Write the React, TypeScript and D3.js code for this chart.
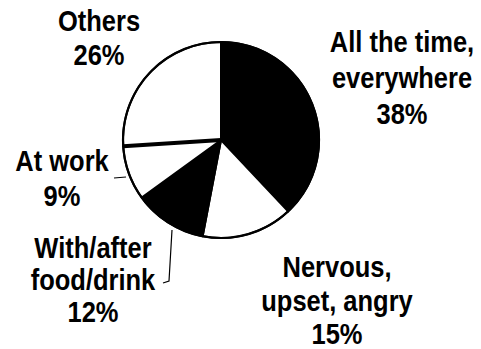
import React from "react";
import * as d3 from "d3";

const categories = ["All the time, everywhere", "Nervous, upset, angry", "With/after food/drink", "At work", "Others"];
const values = [38, 15, 12, 9, 26];
const labelLines = [
  ["All the time,", "everywhere", "38%"],
  ["Nervous,", "upset, angry", "15%"],
  ["With/after", "food/drink", "12%"],
  ["At work", "9%"],
  ["Others", "26%"],
];

const W = 481;
const H = 349;
const cx = 221;
const cy = 140;
const R = 98;
const fills = ["#000", "#fff", "#000", "#fff", "#fff"];
const SY = 1.13;
// label anchor (x center, first baseline) and line step
const labelPos: [number, number, number][] = [
  [402, 52, 36],
  [337, 277, 33.5],
  [93, 258, 32],
  [62, 171, 35],
  [99, 31, 34],
];

export default function App() {
  const pie = d3.pie<number>().sort(null).startAngle(0).endAngle(2 * Math.PI);
  const arcs = pie(values);
  const arc = d3.arc<d3.PieArcDatum<number>>().innerRadius(0).outerRadius(R);
  const sepAngle = arcs[3].endAngle;
  const sx = Math.sin(sepAngle) * R;
  const sy = -Math.cos(sepAngle) * R;
  return (
    <svg width={W} height={H} style={{ position: "absolute", left: 0, top: 0, background: "#fff" }}>
      <rect width={W} height={H} fill="#fff" />
      <g transform={`translate(${cx},${cy})`}>
        {arcs.map((a, i) => (
          <path key={categories[i]} d={arc(a) || ""} fill={fills[i]} stroke="#000" strokeWidth={2} strokeLinejoin="round" />
        ))}
        <line x1={0} y1={0} x2={sx} y2={sy} stroke="#000" strokeWidth={4} />
        <circle r={R} fill="none" stroke="#000" strokeWidth={2.2} />
      </g>
      {/* leader lines */}
      <path d="M114,178 L126,177" stroke="#000" strokeWidth={1.2} fill="none" />
      <path d="M172,230 L169,281 L163,283" stroke="#000" strokeWidth={1.2} fill="none" />
      <g fontFamily="'Liberation Sans', Arial, sans-serif" fontWeight="bold" fontSize={25.5} fill="#000" textAnchor="middle">
        {labelLines.map((lines, i) => (
          <g key={categories[i]}>
            {lines.map((l, j) => (
              <text key={j} transform={`translate(${labelPos[i][0]},${labelPos[i][1] + j * labelPos[i][2]}) scale(1,${SY})`}>
                {l}
              </text>
            ))}
          </g>
        ))}
      </g>
    </svg>
  );
}
